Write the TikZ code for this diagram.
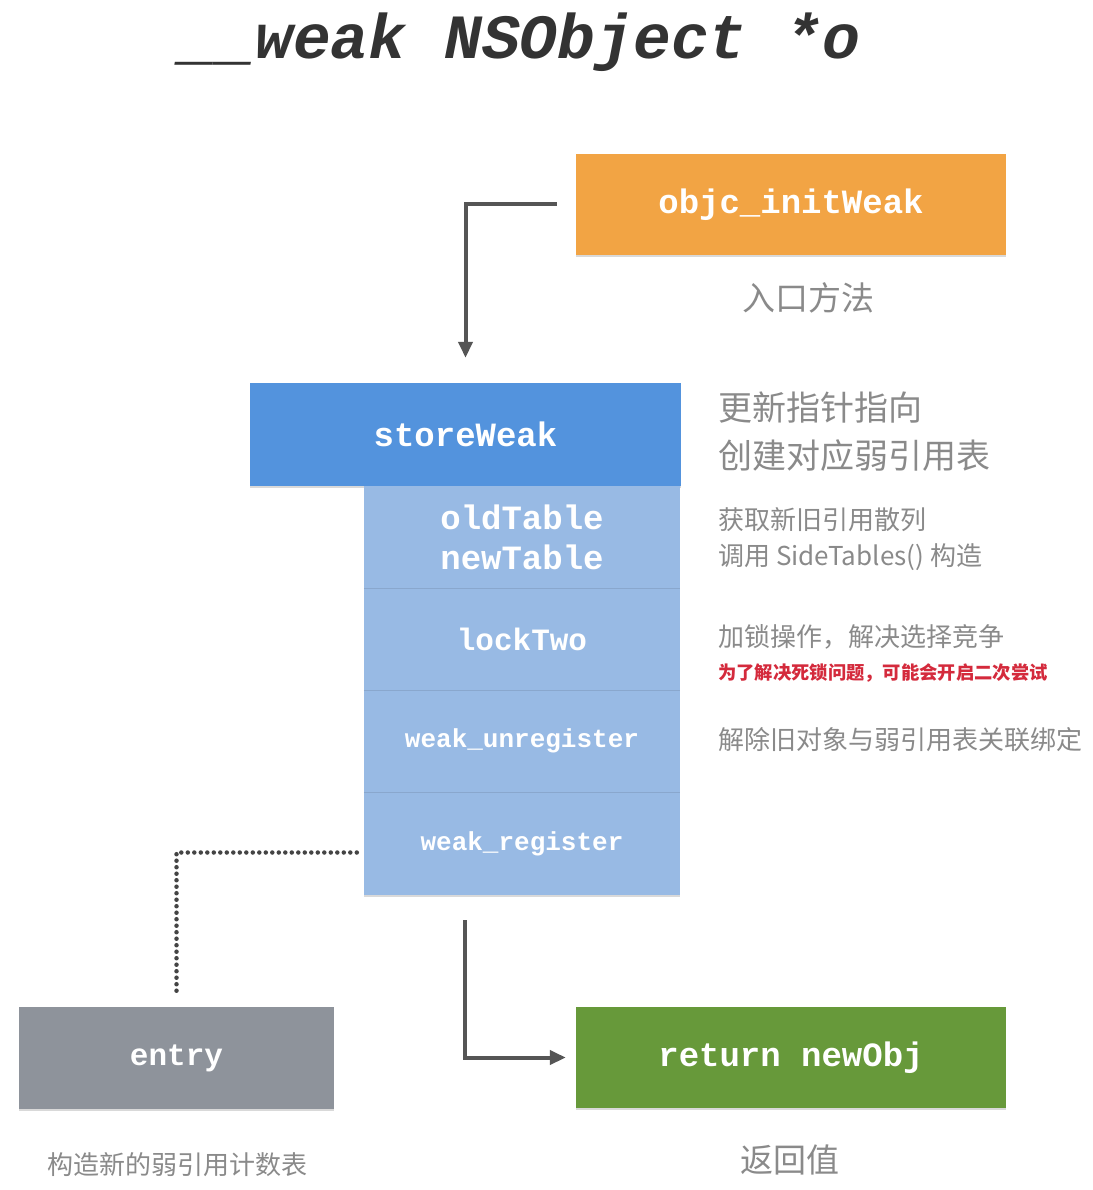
\documentclass[tikz,border=0pt]{standalone}
\usepackage{fontspec}
\newfontfamily\mono{Liberation Mono}
\newfontfamily\cjk{Noto Sans CJK SC}
\usetikzlibrary{arrows.meta,calc,shadows}
\definecolor{cOrange}{HTML}{F2A444}
\definecolor{cBlue}{HTML}{5393DD}
\definecolor{cLight}{HTML}{98BAE4}
\definecolor{cGray}{HTML}{8E939B}
\definecolor{cGreen}{HTML}{67993A}
\definecolor{cNote}{HTML}{8A8A8A}
\definecolor{cRed}{HTML}{D42A3C}
\definecolor{cLine}{HTML}{555555}
\definecolor{cTitle}{HTML}{333333}
\begin{document}
\begin{tikzpicture}[x=1pt,y=-1pt,
  box/.style={inner sep=0pt, text=white, align=center,
    font=\mono\bfseries\fontsize{34}{40}\selectfont,
    drop shadow={shadow xshift=0pt,shadow yshift=-1.5pt,opacity=0.15,fill=black}},
  sec/.style={box, fill=cLight, minimum width=316pt, minimum height=102pt},
  note/.style={inner sep=0pt, anchor=west, text=cNote, font=\cjk\fontsize{26}{30}\selectfont},
  bignote/.style={inner sep=0pt, text=cNote, font=\cjk\fontsize{33}{40}\selectfont},
  arr/.style={draw=cLine, line width=4pt, -{Triangle[length=16pt,width=14pt]}},
  dotline/.style={draw=cLine!80!black, line width=4.5pt, line cap=round, dash pattern=on 0pt off 6.5pt},
  divider/.style={draw=cLight!90!black, line width=1.2pt}]
\useasboundingbox (0,0) rectangle (1092,1190);
\fill[white] (0,0) rectangle (1092,1190);

% title
\node[inner sep=0pt, anchor=base, text=cTitle, font=\mono\bfseries\itshape\fontsize{63}{70}\selectfont] (title) at (520,59) {\_\_weak NSObject *o};

% boxes
\node[box, fill=cOrange, minimum width=430pt, minimum height=101pt] (init) at (791,204.5) {objc\_initWeak};
\node[bignote] (initnote) at (808,298) {入口方法};

\node[box, fill=cBlue, minimum width=431pt, minimum height=103pt] (store) at (465.5,434.5) {storeWeak};

\node[sec] (tables) at (522,537) {oldTable\\newTable};
\node[sec, font=\mono\bfseries\fontsize{31}{36}\selectfont] (lock) at (522,639) {lockTwo};
\node[sec, font=\mono\bfseries\fontsize{26}{30}\selectfont] (unreg) at (522,741) {weak\_unregister};
\node[sec, minimum height=103pt, font=\mono\bfseries\fontsize{26}{30}\selectfont] (reg) at (522,843.5) {weak\_register};
\draw[divider] (tables.south west) -- (tables.south east);
\draw[divider] (lock.south west) -- (lock.south east);
\draw[divider] (unreg.south west) -- (unreg.south east);

\node[box, fill=cGray, minimum width=315pt, minimum height=102pt, font=\mono\bfseries\fontsize{31}{36}\selectfont] (entry) at (176.5,1058) {entry};
\node[note, anchor=center] (entrynote) at (177,1165) {构造新的弱引用计数表};

\node[box, fill=cGreen, minimum width=430pt, minimum height=101pt] (ret) at (791,1057.5) {return newObj};
\node[bignote] (retnote) at (790,1160) {返回值};

% annotations
\node[bignote, anchor=west, font=\cjk\fontsize{34}{40}\selectfont] (n1) at (718,408) {更新指针指向};
\node[bignote, anchor=west, font=\cjk\fontsize{34}{40}\selectfont] (n2) at (718,456) {创建对应弱引用表};
\node[note] (n3) at (718,520) {获取新旧引用散列};
\node[note] (n4) at (718,557) {调用 SideTables() 构造};
\node[note] (n5) at (718,637) {加锁操作，解决选择竞争};
\node[note, text=cRed, font=\cjk\bfseries\fontsize{18.3}{22}\selectfont] (n6) at (718,673) {为了解决死锁问题，可能会开启二次尝试};
\node[note] (n7) at (718,740) {解除旧对象与弱引用表关联绑定};

% connectors
\draw[arr, shorten <=19pt, shorten >=25pt] (init.west) -| (store.north);
\coordinate (retstart) at (465,920);
\draw[arr, shorten >=10pt] (retstart) |- (ret.west);
\coordinate (regout) at ($(reg.west)+(0,9)$);
\draw[dotline, shorten <=7pt, shorten >=10pt] (regout) -| (entry.north);
\end{tikzpicture}
\end{document}
